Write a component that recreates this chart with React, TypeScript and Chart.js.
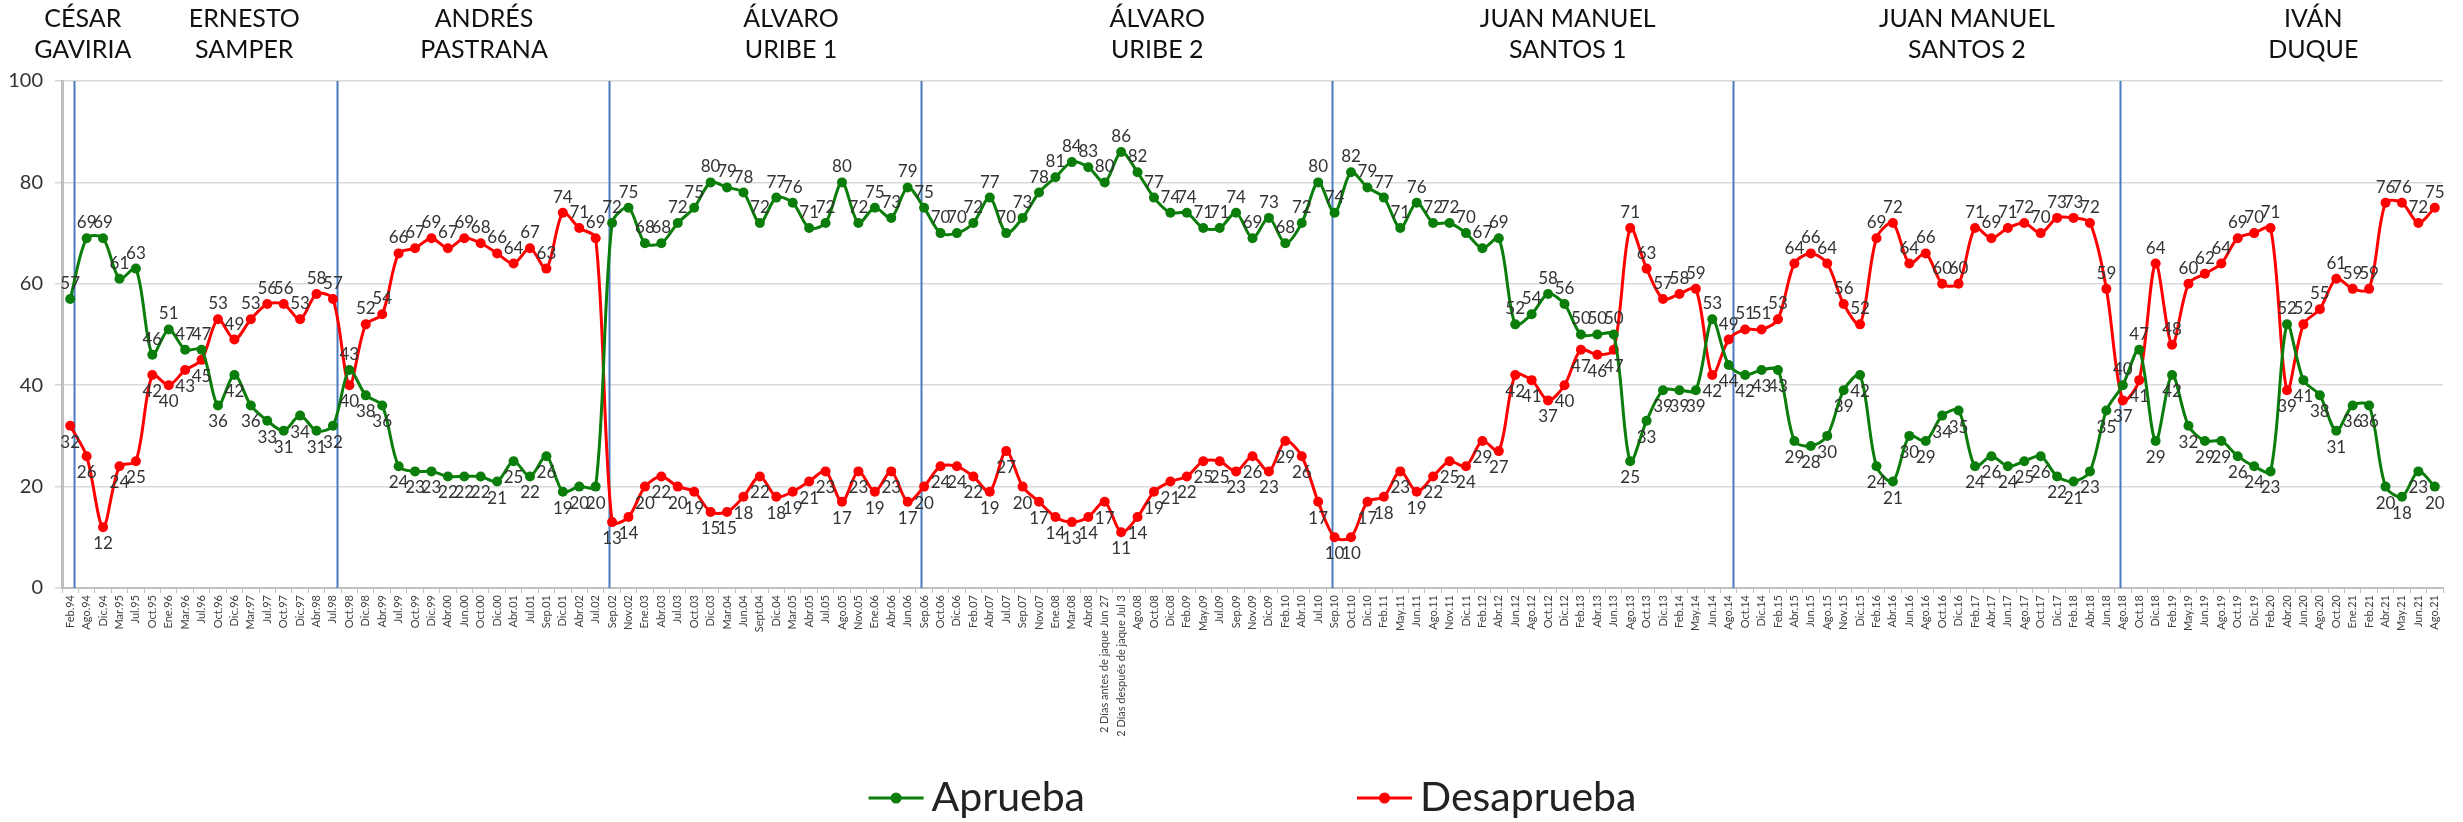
import React, { useEffect, useRef } from 'react';
import { Chart, registerables } from 'chart.js';

Chart.register(...registerables);

const categories: string[] = [
  'Feb.94', 'Ago.94', 'Dic.94', 'Mar.95', 'Jul.95', 'Oct.95', 'Ene.96', 'Mar.96', 'Jul.96', 'Oct.96',
  'Dic.96', 'Mar.97', 'Jul.97', 'Oct.97', 'Dic.97', 'Abr.98', 'Jul.98', 'Oct.98', 'Dic.98', 'Abr.99',
  'Jul.99', 'Oct.99', 'Dic.99', 'Abr.00', 'Jun.00', 'Oct.00', 'Dic.00', 'Abr.01', 'Jul.01', 'Sep.01',
  'Dic.01', 'Abr.02', 'Jul.02', 'Sep.02', 'Nov.02', 'Ene.03', 'Abr.03', 'Jul.03', 'Oct.03', 'Dic.03',
  'Mar.04', 'Jun.04', 'Sept.04', 'Dic.04', 'Mar.05', 'Abr.05', 'Jul.05', 'Ago.05', 'Nov.05', 'Ene.06',
  'Abr.06', 'Jun.06', 'Sep.06', 'Oct.06', 'Dic.06', 'Feb.07', 'Abr.07', 'Jul.07', 'Sep.07', 'Nov.07',
  'Ene.08', 'Mar.08', 'Abr.08', '2 Días antes de jaque Jun 27', '2 Días después de jaque Jul 3', 'Ago.08', 'Oct.08', 'Dic.08', 'Feb.09', 'May.09',
  'Jul.09', 'Sep.09', 'Nov.09', 'Dic.09', 'Feb.10', 'Abr.10', 'Jul.10', 'Sep.10', 'Oct.10', 'Dic.10',
  'Feb.11', 'May.11', 'Jun.11', 'Ago.11', 'Nov.11', 'Dic.11', 'Feb.12', 'Abr.12', 'Jun.12', 'Ago.12',
  'Oct.12', 'Dic.12', 'Feb.13', 'Abr.13', 'Jun.13', 'Ago.13', 'Oct.13', 'Dic.13', 'Feb.14', 'May.14',
  'Jun.14', 'Ago.14', 'Oct.14', 'Dic.14', 'Feb.15', 'Abr.15', 'Jun.15', 'Ago.15', 'Nov.15', 'Dic.15',
  'Feb.16', 'Abr.16', 'Jun.16', 'Ago.16', 'Oct.16', 'Dic.16', 'Feb.17', 'Abr.17', 'Jun.17', 'Ago.17',
  'Oct.17', 'Dic.17', 'Feb.18', 'Abr.18', 'Jun.18', 'Ago.18', 'Oct.18', 'Dic.18', 'Feb.19', 'May.19',
  'Jun.19', 'Ago.19', 'Oct.19', 'Dic.19', 'Feb.20', 'Abr.20', 'Jun.20', 'Ago.20', 'Oct.20', 'Ene.21',
  'Feb.21', 'Abr.21', 'May.21', 'Jun.21', 'Ago.21',
];

const aprueba: number[] = [
  57, 69, 69, 61, 63, 46, 51, 47, 47, 36,
  42, 36, 33, 31, 34, 31, 32, 43, 38, 36,
  24, 23, 23, 22, 22, 22, 21, 25, 22, 26,
  19, 20, 20, 72, 75, 68, 68, 72, 75, 80,
  79, 78, 72, 77, 76, 71, 72, 80, 72, 75,
  73, 79, 75, 70, 70, 72, 77, 70, 73, 78,
  81, 84, 83, 80, 86, 82, 77, 74, 74, 71,
  71, 74, 69, 73, 68, 72, 80, 74, 82, 79,
  77, 71, 76, 72, 72, 70, 67, 69, 52, 54,
  58, 56, 50, 50, 50, 25, 33, 39, 39, 39,
  53, 44, 42, 43, 43, 29, 28, 30, 39, 42,
  24, 21, 30, 29, 34, 35, 24, 26, 24, 25,
  26, 22, 21, 23, 35, 40, 47, 29, 42, 32,
  29, 29, 26, 24, 23, 52, 41, 38, 31, 36,
  36, 20, 18, 23, 20,
];

const desaprueba: number[] = [
  32, 26, 12, 24, 25, 42, 40, 43, 45, 53,
  49, 53, 56, 56, 53, 58, 57, 40, 52, 54,
  66, 67, 69, 67, 69, 68, 66, 64, 67, 63,
  74, 71, 69, 13, 14, 20, 22, 20, 19, 15,
  15, 18, 22, 18, 19, 21, 23, 17, 23, 19,
  23, 17, 20, 24, 24, 22, 19, 27, 20, 17,
  14, 13, 14, 17, 11, 14, 19, 21, 22, 25,
  25, 23, 26, 23, 29, 26, 17, 10, 10, 17,
  18, 23, 19, 22, 25, 24, 29, 27, 42, 41,
  37, 40, 47, 46, 47, 71, 63, 57, 58, 59,
  42, 49, 51, 51, 53, 64, 66, 64, 56, 52,
  69, 72, 64, 66, 60, 60, 71, 69, 71, 72,
  70, 73, 73, 72, 59, 37, 41, 64, 48, 60,
  62, 64, 69, 70, 71, 39, 52, 55, 61, 59,
  59, 76, 76, 72, 75,
];

const seriesNames: string[] = ['Aprueba', 'Desaprueba'];
const seriesColors: string[] = ['#0a7d0a', '#ff0000'];

const yTicks: number[] = [0, 20, 40, 60, 80, 100];

// Presidential terms: two-line name, centred over a (fractional) category index
const presidentLine1: string[] = ['CÉSAR', 'ERNESTO', 'ANDRÉS', 'ÁLVARO', 'ÁLVARO', 'JUAN MANUEL', 'JUAN MANUEL', 'IVÁN'];
const presidentLine2: string[] = ['GAVIRIA', 'SAMPER', 'PASTRANA', 'URIBE 1', 'URIBE 2', 'SANTOS 1', 'SANTOS 2', 'DUQUE'];
const presidentCenters: number[] = [0.77, 10.6, 25.2, 43.9, 66.2, 91.2, 115.5, 136.6];

// Term boundaries (fractional category index)
const termBoundaries: number[] = [0.23, 16.23, 32.83, 51.82, 76.85, 101.24, 124.81];

const FONT = 'Lato, "Open Sans", sans-serif';

const overlayPlugin = {
  id: 'overlay',
  beforeDatasetsDraw(chart: any) {
    const { ctx, chartArea, scales } = chart;
    ctx.save();
    ctx.strokeStyle = '#4a7cc0';
    ctx.lineWidth = 2;
    termBoundaries.forEach((b) => {
      const x = Math.round(scales.x.getPixelForValue(b)) + 0.5;
      ctx.beginPath();
      ctx.moveTo(x, chartArea.top);
      ctx.lineTo(x, chartArea.bottom);
      ctx.stroke();
    });
    ctx.restore();
  },
  afterDatasetsDraw(chart: any) {
    const { ctx } = chart;
    const metas = [chart.getDatasetMeta(0), chart.getDatasetMeta(1)];
    const series = [aprueba, desaprueba];
    ctx.save();
    ctx.font = `17px ${FONT}`;
    ctx.fillStyle = '#333';
    ctx.textAlign = 'center';
    for (let i = 0; i < categories.length; i++) {
      for (let d = 0; d < 2; d++) {
        const v = series[d][i];
        const o = series[1 - d][i];
        const above = v > o || (v === o && d === 0);
        const pt = metas[d].data[i];
        if (!pt) continue;
        ctx.textBaseline = above ? 'bottom' : 'top';
        ctx.fillText(String(v), pt.x, above ? pt.y - 7 : pt.y + 8);
      }
    }
    ctx.restore();
  },
  afterDraw(chart: any) {
    const { ctx, chartArea, scales } = chart;
    ctx.save();
    // Titles
    ctx.fillStyle = '#111';
    ctx.font = `25px ${FONT}`;
    ctx.textAlign = 'center';
    ctx.textBaseline = 'middle';
    presidentCenters.forEach((c, k) => {
      const x = scales.x.getPixelForValue(c);
      ctx.fillText(presidentLine1[k], x, 19);
      ctx.fillText(presidentLine2[k], x, 50);
    });
    // Legend
    const legendY = 798;
    ctx.font = `41px ${FONT}`;
    const markerW = 55;
    const gapMarkerText = 8;
    const gapItems = 272;
    const widths = seriesNames.map((n) => ctx.measureText(n).width);
    const total = widths.reduce((a, w) => a + markerW + gapMarkerText + w, 0) + gapItems;
    let x = (chartArea.left + chartArea.right) / 2 - total / 2;
    seriesNames.forEach((n, k) => {
      ctx.strokeStyle = seriesColors[k];
      ctx.fillStyle = seriesColors[k];
      ctx.lineWidth = 3;
      ctx.beginPath();
      ctx.moveTo(x, legendY);
      ctx.lineTo(x + markerW, legendY);
      ctx.stroke();
      ctx.beginPath();
      ctx.arc(x + markerW / 2, legendY, 5.5, 0, Math.PI * 2);
      ctx.fill();
      x += markerW + gapMarkerText;
      ctx.fillStyle = '#222';
      ctx.textAlign = 'left';
      ctx.textBaseline = 'middle';
      ctx.fillText(n, x, legendY);
      x += widths[k] + gapItems;
    });
    ctx.restore();
  },
};

export default function App() {
  const canvasRef = useRef<HTMLCanvasElement | null>(null);

  useEffect(() => {
    if (!canvasRef.current) return;
    const chart = new Chart(canvasRef.current, {
      type: 'line',
      data: {
        labels: categories,
        datasets: [aprueba, desaprueba].map((d, k) => ({
          label: seriesNames[k],
          data: d,
          borderColor: seriesColors[k],
          backgroundColor: seriesColors[k],
          borderWidth: 3,
          pointRadius: 5,
          pointBorderWidth: 0,
          pointBackgroundColor: seriesColors[k],
          tension: 0.3,
          fill: false,
        })),
      },
      options: {
        responsive: false,
        animation: false,
        events: [],
        layout: { padding: { top: 81, right: 20, left: 0, bottom: 0 } },
        plugins: {
          legend: { display: false },
          tooltip: { enabled: false },
        },
        scales: {
          x: {
            type: 'category',
            offset: true,
            grid: {
              display: true,
              drawOnChartArea: false,
              drawTicks: true,
              tickLength: 5,
              offset: true,
              color: '#bfbfbf',
            },
            border: { display: true, color: '#bfbfbf', width: 2 },
            ticks: {
              autoSkip: false,
              minRotation: 90,
              maxRotation: 90,
              padding: 2,
              color: '#404040',
              font: { size: 11, family: FONT },
            },
            afterFit: (s: any) => {
              s.height = 234;
            },
          },
          y: {
            min: 0,
            max: 100,
            afterBuildTicks: (s: any) => {
              s.ticks = yTicks.map((v) => ({ value: v }));
            },
            ticks: {
              color: '#333',
              padding: 12,
              font: { size: 20, family: FONT },
            },
            grid: { color: '#d9d9d9', lineWidth: 1.5, drawTicks: true, tickLength: 7 },
            border: { display: true, color: '#bfbfbf', width: 3 },
            afterFit: (s: any) => {
              s.width = 62;
            },
          },
        },
      },
      plugins: [overlayPlugin],
    });
    return () => chart.destroy();
  }, []);

  return (
    <div style={{ position: 'absolute', left: 0, top: 0, width: 2463, height: 822, background: '#fff' }}>
      <canvas ref={canvasRef} width={2463} height={822} style={{ display: 'block' }} />
    </div>
  );
}
